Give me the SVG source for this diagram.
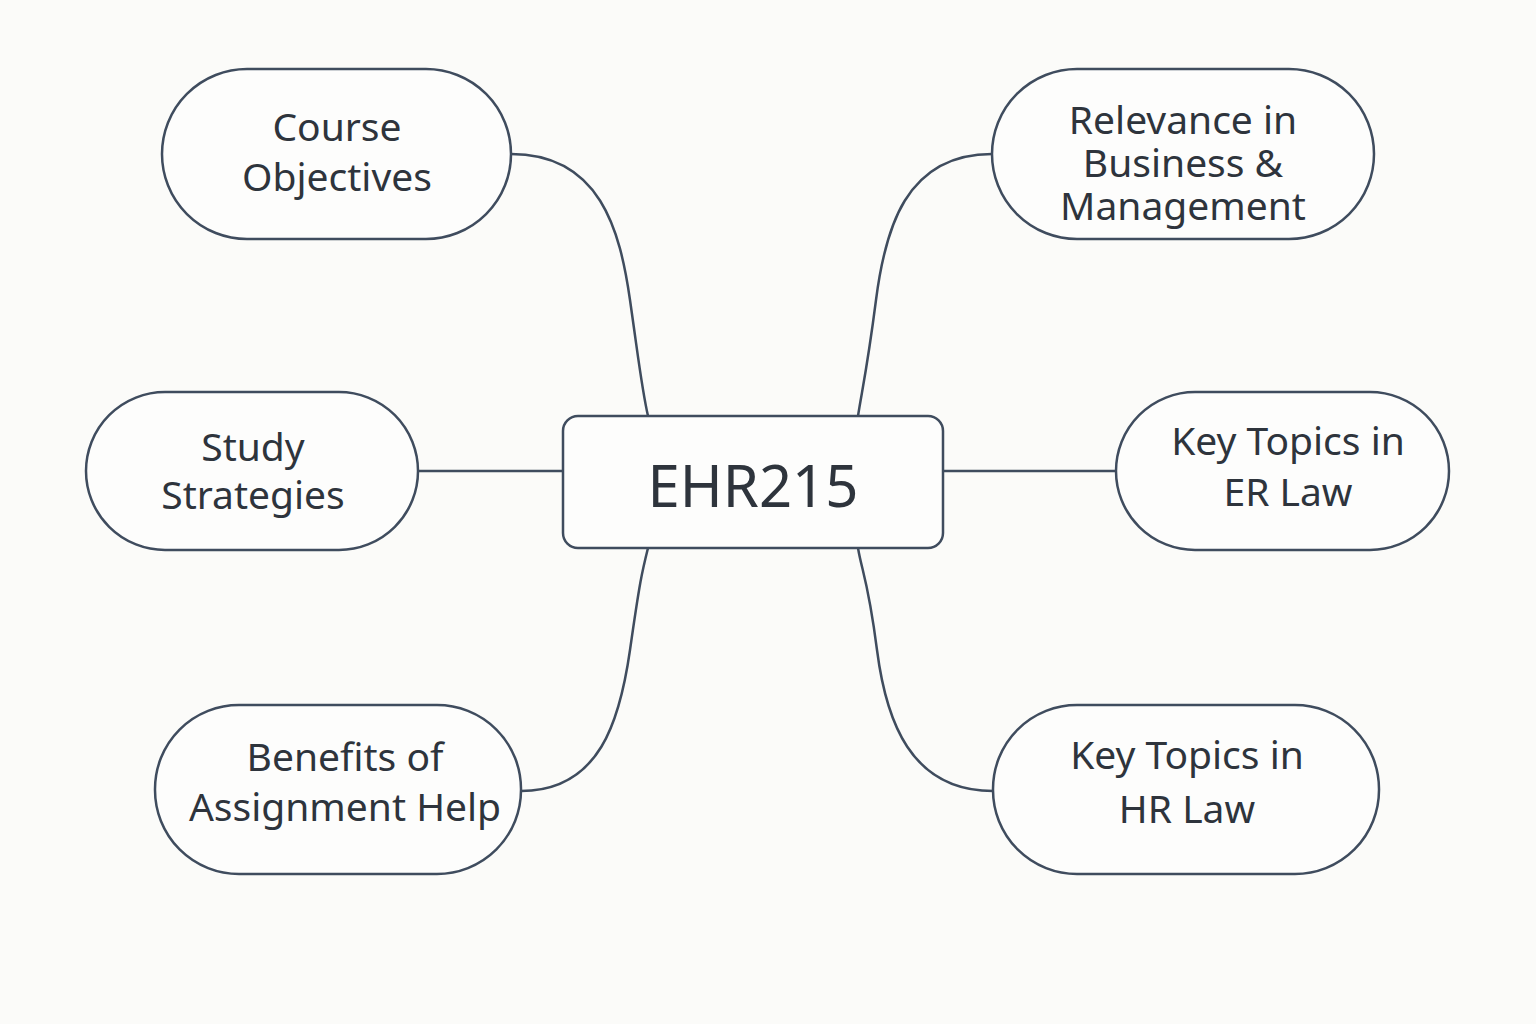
<svg xmlns="http://www.w3.org/2000/svg" width="1536" height="1024" viewBox="0 0 1536 1024">
<style>
.node{fill:#fdfdfc;stroke:#3f4c5e;stroke-width:2.5}
.lbl{font-family:"Noto Sans","Liberation Sans",sans-serif;font-size:39px;fill:#2e343c;text-anchor:middle}
.ctr{font-family:"Noto Sans","Liberation Sans",sans-serif;font-size:58px;fill:#2e343c;text-anchor:middle}
.edge{fill:none;stroke:#3f4c5e;stroke-width:2.5}
</style>
<rect width="1536" height="1024" fill="#fbfbf9"/>
<g id="connectors">
<path class="edge" d="M511,154 C600,154 620,230 630,300 S642,390 648,416"/>
<path class="edge" d="M992,154 C905,154 885,230 876,300 S862,390 858,416"/>
<path class="edge" d="M418,471 H563"/>
<path class="edge" d="M943,471 H1116"/>
<path class="edge" d="M521,791 C600,791 620,720 630,650 S642,572 648,548"/>
<path class="edge" d="M993,791 C910,791 886,720 877,650 S862,572 858,548"/>
</g>
<g id="center">
<rect class="node" x="563" y="416" width="380" height="132" rx="15"/>
<text class="ctr" x="753" y="507">EHR215</text>
</g>
<g id="course-objectives">
<rect class="node" x="162" y="69" width="349" height="170" rx="85"/>
<text class="lbl"><tspan x="337" y="141">Course</tspan><tspan x="337" y="191">Objectives</tspan></text>
</g>
<g id="relevance">
<rect class="node" x="992" y="69" width="382" height="170" rx="85"/>
<text class="lbl"><tspan x="1183" y="134">Relevance in</tspan><tspan x="1183" y="177">Business &amp;</tspan><tspan x="1183" y="220">Management</tspan></text>
</g>
<g id="study-strategies">
<rect class="node" x="86" y="392" width="332" height="158" rx="79"/>
<text class="lbl"><tspan x="253" y="461">Study</tspan><tspan x="253" y="509">Strategies</tspan></text>
</g>
<g id="key-topics-er">
<rect class="node" x="1116" y="392" width="333" height="158" rx="79"/>
<text class="lbl"><tspan x="1288" y="455">Key Topics in</tspan><tspan x="1288" y="506">ER Law</tspan></text>
</g>
<g id="benefits">
<rect class="node" x="155" y="705" width="366" height="169" rx="84"/>
<text class="lbl"><tspan x="345" y="771">Benefits of</tspan><tspan x="345" y="821">Assignment Help</tspan></text>
</g>
<g id="key-topics-hr">
<rect class="node" x="993" y="705" width="386" height="169" rx="84"/>
<text class="lbl"><tspan x="1187" y="769">Key Topics in</tspan><tspan x="1187" y="823">HR Law</tspan></text>
</g>
</svg>
